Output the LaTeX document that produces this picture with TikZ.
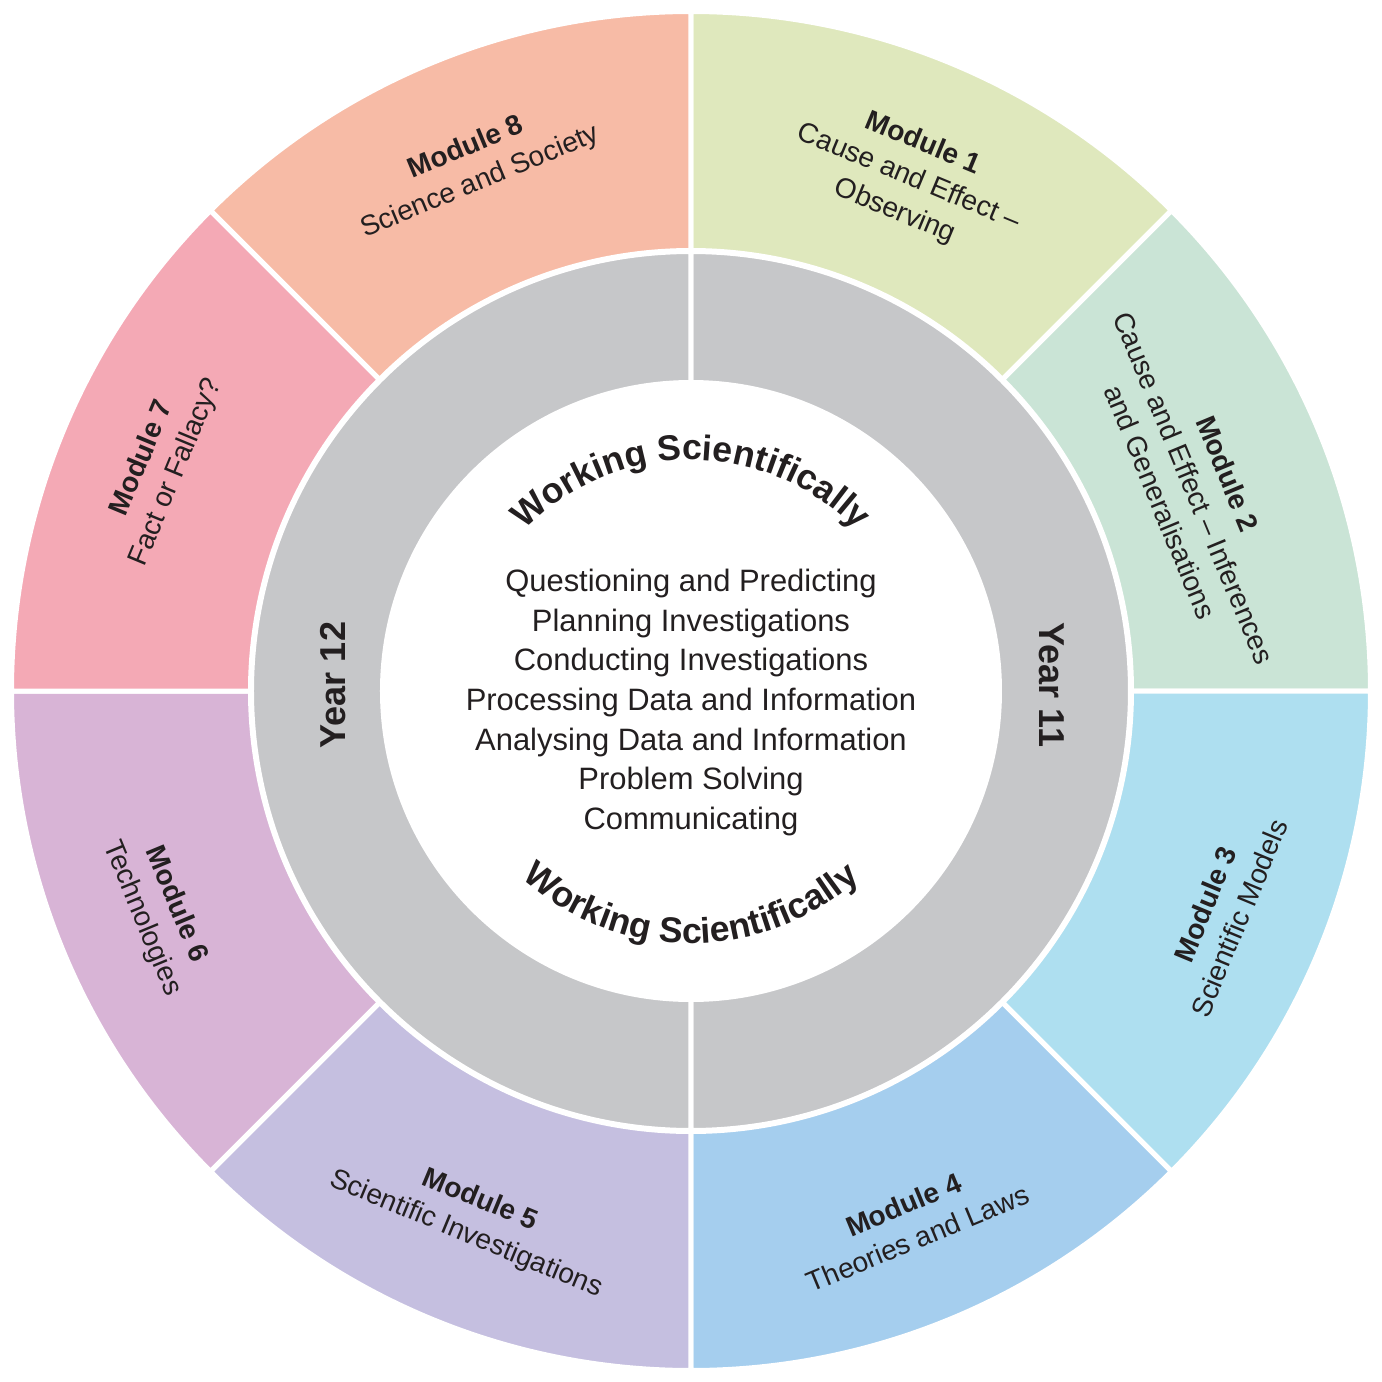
\documentclass[tikz,border=0pt]{standalone}
\usepackage{fontspec}
\setmainfont{Liberation Sans}
\usepackage{tikz}
\usepackage{xcolor}
\usetikzlibrary{decorations.text}

\definecolor{modone}{HTML}{DFE8BD}
\definecolor{modtwo}{HTML}{CAE4D6}
\definecolor{modthree}{HTML}{AEDFF0}
\definecolor{modfour}{HTML}{A5CEEE}
\definecolor{modfive}{HTML}{C5BFE0}
\definecolor{modsix}{HTML}{D8B4D6}
\definecolor{modseven}{HTML}{F4A9B5}
\definecolor{modeight}{HTML}{F7BBA6}
\definecolor{yearring}{HTML}{C6C7C9}
\definecolor{ink}{HTML}{231F20}

\newcommand{\wsfont}{\color{ink}\fontsize{20.3}{24}\selectfont\bfseries}

\begin{document}
\begin{tikzpicture}[
  sector/.style={draw=white, line width=0.1cm},
  modlabel/.style={align=center, text=ink, font=\fontsize{16}{20.8}\selectfont},
  yearlabel/.style={text=ink, font=\fontsize{20.5}{24}\selectfont\bfseries},
  skilllist/.style={align=center, text=ink, font=\fontsize{17.6}{22.5}\selectfont}
]
\useasboundingbox (-13.82,-13.82) rectangle (13.82,13.82);

% outer ring, one sector per module
\draw[sector, fill=modone]   (90:8.81) -- (90:13.59) arc[start angle=90, end angle=45, radius=13.59] -- (45:8.81) arc[start angle=45, end angle=90, radius=8.81] -- cycle;
\draw[sector, fill=modtwo]   (45:8.81) -- (45:13.59) arc[start angle=45, end angle=0, radius=13.59] -- (0:8.81) arc[start angle=0, end angle=45, radius=8.81] -- cycle;
\draw[sector, fill=modthree] (0:8.81) -- (0:13.59) arc[start angle=0, end angle=-45, radius=13.59] -- (-45:8.81) arc[start angle=-45, end angle=0, radius=8.81] -- cycle;
\draw[sector, fill=modfour]  (-45:8.81) -- (-45:13.59) arc[start angle=-45, end angle=-90, radius=13.59] -- (-90:8.81) arc[start angle=-90, end angle=-45, radius=8.81] -- cycle;
\draw[sector, fill=modfive]  (-90:8.81) -- (-90:13.59) arc[start angle=-90, end angle=-135, radius=13.59] -- (-135:8.81) arc[start angle=-135, end angle=-90, radius=8.81] -- cycle;
\draw[sector, fill=modsix]   (-135:8.81) -- (-135:13.59) arc[start angle=-135, end angle=-180, radius=13.59] -- (-180:8.81) arc[start angle=-180, end angle=-135, radius=8.81] -- cycle;
\draw[sector, fill=modseven] (180:8.81) -- (180:13.59) arc[start angle=180, end angle=135, radius=13.59] -- (135:8.81) arc[start angle=135, end angle=180, radius=8.81] -- cycle;
\draw[sector, fill=modeight] (135:8.81) -- (135:13.59) arc[start angle=135, end angle=90, radius=13.59] -- (90:8.81) arc[start angle=90, end angle=135, radius=8.81] -- cycle;

% year ring
\draw[sector, fill=yearring] (90:6.17) -- (90:8.79) arc[start angle=90, end angle=-90, radius=8.79] -- (-90:6.17) arc[start angle=-90, end angle=90, radius=6.17] -- cycle;
\draw[sector, fill=yearring] (90:6.17) -- (90:8.79) arc[start angle=90, end angle=270, radius=8.79] -- (270:6.17) arc[start angle=270, end angle=90, radius=6.17] -- cycle;

\node[modlabel, rotate=-22.5] (m1) at (67:11.15)     {\textbf{Module 1}\\Cause and Effect –\\Observing};
\node[modlabel, rotate=-67.5] (m2) at (22:10.85)     {\textbf{Module 2}\\Cause and Effect – Inferences\\and Generalisations};
\node[modlabel, rotate=67.5]  (m3) at (-22.5:11.5)   {\textbf{Module 3}\\Scientific Models};
\node[modlabel, rotate=22.5]  (m4) at (-67.5:11.48)  {\textbf{Module 4}\\Theories and Laws};
\node[modlabel, rotate=-22.5] (m5) at (-112.5:11.4)  {\textbf{Module 5}\\Scientific Investigations};
\node[modlabel, rotate=-67.5] (m6) at (-157.5:11.52) {\textbf{Module 6}\\Technologies};
\node[modlabel, rotate=67.5]  (m7) at (157:11.55)    {\textbf{Module 7}\\Fact or Fallacy?};
\node[modlabel, rotate=22.5]  (m8) at (112.5:11.38)  {\textbf{Module 8}\\Science and Society};

\node[yearlabel, rotate=-90] (y11) at (7.22,0.12)  {Year 11};
\node[yearlabel, rotate=90]  (y12) at (-7.16,0.12) {Year 12};

% centre
\node[skilllist] (skills) at (0,-0.23) {Questioning and Predicting\\Planning Investigations\\Conducting Investigations\\Processing Data and Information\\Analysing Data and Information\\Problem Solving\\Communicating};

\path[decorate, decoration={text along path, text align=center, text={|\wsfont|Working Scientifically}}]
  (160:4.62) arc[start angle=160, end angle=20, radius=4.62];
\path[decorate, decoration={text along path, text align=center, text={|\wsfont|Working Scientifically}}]
  (200:5.05) arc[start angle=200, end angle=340, radius=5.05];

\end{tikzpicture}
\end{document}
